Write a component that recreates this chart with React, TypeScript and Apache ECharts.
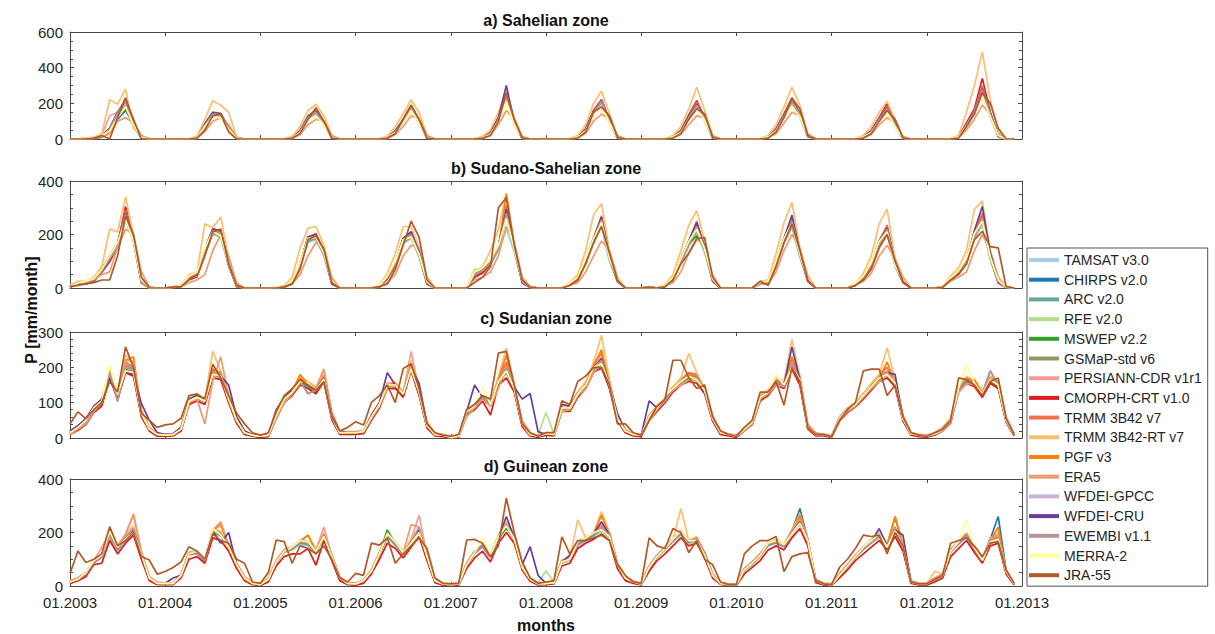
import React, { useEffect, useRef } from "react";
import * as echarts from "echarts";

const seriesNames = ["TAMSAT v3.0", "CHIRPS v2.0", "ARC v2.0", "RFE v2.0", "MSWEP v2.2", "GSMaP-std v6", "PERSIANN-CDR v1r1", "CMORPH-CRT v1.0", "TRMM 3B42 v7", "TRMM 3B42-RT v7", "PGF v3", "ERA5", "WFDEI-GPCC", "WFDEI-CRU", "EWEMBI v1.1", "MERRA-2", "JRA-55"];
const seriesColors = ["#a6cee3", "#1f78b4", "#66a89a", "#b2df8a", "#33a02c", "#8f9a60", "#fb9a99", "#e31a1c", "#f4704e", "#fdbf6f", "#ff7f00", "#ee9b6e", "#cab2d6", "#6a3d9a", "#b39595", "#ffff99", "#b15928"];
const zoneTitles = ["a) Sahelian zone", "b) Sudano-Sahelian zone", "c) Sudanian zone", "d) Guinean zone"];
const xTickLabels = ["01.2003", "01.2004", "01.2005", "01.2006", "01.2007", "01.2008", "01.2009", "01.2010", "01.2011", "01.2012", "01.2013"];
const yMaxes = [600, 400, 300, 400];
const ySteps = [200, 200, 100, 200];
const yMinorSplits = [4, 4, 5, 4];

// a) Sahelian zone
const aTAMSAT = [0,0,0,3,10,40,120,190,70,5,0,0, 0,0,0,0,3,60,130,125,50,3,0,0, 0,0,0,0,3,30,110,140,80,5,0,0, 0,0,0,0,3,30,90,160,90,5,0,0, 0,0,0,0,3,25,100,220,80,3,0,0, 0,0,0,0,5,40,130,190,90,5,0,0, 0,0,0,0,5,30,110,170,100,5,0,0, 0,0,0,0,5,40,120,190,120,10,0,0, 0,0,0,0,5,30,100,150,70,3,0,0, 0,0,0,0,5,60,140,240,120,10,0,0];
const aCHIRPS = [0,0,2,5,15,60,110,160,90,10,0,0, 0,0,0,0,5,80,145,140,60,5,0,0, 0,0,0,0,5,45,125,155,95,10,0,0, 0,0,0,0,5,45,105,185,105,10,0,0, 0,0,0,0,5,35,115,245,95,5,0,0, 0,0,0,0,10,55,155,215,105,10,0,0, 0,0,0,0,10,45,125,195,125,10,0,0, 0,0,0,0,10,55,135,215,145,20,0,0, 0,0,0,0,10,45,115,175,85,5,0,0, 0,0,0,0,10,85,155,275,145,20,0,0];
const aARC = [0,0,0,2,10,45,130,200,80,5,0,0, 0,0,0,0,5,70,135,130,55,3,0,0, 0,0,0,0,5,35,115,145,85,5,0,0, 0,0,0,0,5,35,95,170,95,5,0,0, 0,0,0,0,5,25,105,230,85,5,0,0, 0,0,0,0,8,45,145,200,95,8,0,0, 0,0,0,0,8,35,115,180,110,8,0,0, 0,0,0,0,8,45,125,200,130,15,0,0, 0,0,0,0,8,35,105,160,75,5,0,0, 0,0,0,0,8,75,145,255,130,15,0,0];
const aRFE = [2,0,5,8,20,55,145,215,95,15,2,0, 0,0,2,0,8,85,145,140,65,8,0,0, 0,0,0,2,8,45,125,155,95,12,0,0, 0,2,0,0,8,45,105,185,105,12,0,0, 0,0,0,2,8,35,115,245,95,8,0,0, 5,0,0,0,12,55,155,215,105,12,0,0, 0,0,0,2,12,45,125,195,125,12,0,0, 0,0,0,0,12,55,135,215,145,22,0,0, 0,0,0,0,12,45,115,175,85,8,0,0, 0,0,0,0,12,85,155,275,145,22,0,0];
const aMSWEP = [0,0,2,5,15,50,135,165,85,10,0,0, 0,0,0,0,5,80,140,135,60,5,0,0, 0,0,0,0,5,40,120,150,90,10,0,0, 0,0,0,0,5,40,100,180,100,10,0,0, 0,0,0,0,5,30,110,235,90,5,0,0, 0,0,0,0,10,50,150,205,100,10,0,0, 0,0,0,0,10,40,120,185,120,10,0,0, 0,0,0,0,10,50,130,205,140,20,0,0, 0,0,0,0,10,40,110,165,80,5,0,0, 0,0,0,0,10,80,150,265,140,20,0,0];
const aGSMaP = [0,0,3,8,20,60,150,220,90,12,0,0, 0,0,0,2,8,85,150,145,65,8,0,0, 0,0,0,2,8,45,130,160,95,12,0,0, 0,0,0,2,8,45,110,190,105,12,0,0, 0,0,0,2,8,35,120,250,95,8,0,0, 0,0,0,2,12,55,160,220,105,12,0,0, 0,0,0,2,12,45,130,200,125,12,0,0, 0,0,0,2,12,55,140,220,145,22,0,0, 0,0,0,2,12,45,120,180,85,8,0,0, 0,0,0,2,12,85,160,280,145,22,0,0];
const aPERSIANN = [0,0,3,8,20,130,150,200,90,15,0,0, 0,0,0,2,10,90,145,135,65,10,0,0, 0,0,0,2,10,50,125,150,95,15,0,0, 0,0,0,2,10,50,105,175,105,15,0,0, 0,0,0,2,10,40,115,230,95,10,0,0, 0,0,0,2,15,60,150,200,105,15,0,0, 0,0,0,2,15,50,125,185,120,15,0,0, 0,0,0,2,15,60,135,205,140,25,0,0, 0,0,0,2,15,50,115,165,85,10,0,0, 0,0,0,2,15,90,155,255,140,25,0,0];
const aCMORPH = [0,0,0,2,10,45,130,230,80,5,0,0, 0,0,0,0,3,75,135,140,55,3,0,0, 0,0,0,0,3,40,125,165,90,5,0,0, 0,0,0,0,3,40,105,185,100,5,0,0, 0,0,0,0,3,30,115,250,85,3,0,0, 0,0,0,0,8,55,160,220,100,5,0,0, 0,0,0,0,8,45,135,215,120,5,0,0, 0,0,0,0,8,55,140,230,140,15,0,0, 0,0,0,0,8,45,120,200,80,3,0,0, 0,0,0,0,8,90,170,340,150,15,0,0];
const aTRMM = [0,0,2,5,15,55,140,225,90,10,0,0, 0,0,0,0,5,80,145,140,60,5,0,0, 0,0,0,0,5,40,125,160,90,10,0,0, 0,0,0,0,5,40,105,190,100,10,0,0, 0,0,0,0,5,30,115,245,90,5,0,0, 0,0,0,0,10,50,155,220,100,10,0,0, 0,0,0,0,10,40,125,205,120,10,0,0, 0,0,0,0,10,50,135,220,140,20,0,0, 0,0,0,0,10,40,115,185,80,5,0,0, 0,0,0,0,10,80,160,300,140,20,0,0];
const aTRMMRT = [0,0,5,10,30,220,195,280,60,15,0,0, 0,0,0,2,15,110,215,190,150,10,0,0, 0,0,0,2,15,70,160,195,130,20,0,0, 0,0,0,2,15,70,140,220,150,20,0,0, 0,0,0,2,15,50,150,270,120,10,0,0, 0,0,0,2,20,80,200,270,140,20,0,0, 0,0,0,2,20,70,170,290,160,20,0,0, 0,0,0,2,20,80,180,290,190,30,0,0, 0,0,0,2,20,70,150,210,110,10,0,0, 0,0,0,2,20,150,300,490,220,40,0,0];
const aPGF = [0,0,2,5,15,50,140,215,85,10,0,0, 0,0,0,0,5,75,140,140,60,5,0,0, 0,0,0,0,5,40,120,155,90,10,0,0, 0,0,0,0,5,40,100,180,100,10,0,0, 0,0,0,0,5,30,110,240,90,5,0,0, 0,0,0,0,10,50,150,210,100,10,0,0, 0,0,0,0,10,40,120,195,120,10,0,0, 0,0,0,0,10,50,130,210,140,20,0,0, 0,0,0,0,10,40,110,170,80,5,0,0, 0,0,0,0,10,80,150,270,140,20,0,0];
const aERA5 = [0,0,2,5,10,30,100,120,90,20,2,0, 0,0,0,0,5,40,100,120,80,10,0,0, 0,0,0,0,5,25,80,110,100,20,0,0, 0,0,0,0,5,25,70,130,110,20,0,0, 0,0,0,0,5,20,80,160,110,15,0,0, 0,0,0,0,8,30,100,140,110,20,0,0, 0,0,0,0,8,25,80,130,120,20,0,0, 0,0,0,0,8,30,90,150,130,30,0,0, 0,0,0,0,8,25,80,120,90,15,0,0, 0,0,0,0,8,50,110,190,140,30,0,0];
const aWFDEIGPCC = [0,0,2,5,15,50,145,205,85,10,0,0, 0,0,0,0,5,80,145,130,60,5,0,0, 0,0,0,0,5,40,120,145,90,10,0,0, 0,0,0,0,5,40,100,175,100,10,0,0, 0,0,0,0,5,30,110,240,90,5,0,0, 0,0,0,0,10,50,150,210,100,10,0,0, 0,0,0,0,10,40,120,190,120,10,0,0, 0,0,0,0,10,50,130,210,140,20,0,0, 0,0,0,0,10,40,110,170,80,5,0,0, 0,0,0,0,10,80,150,270,140,20,0,0];
const aWFDEICRU = [0,0,2,5,15,60,150,215,90,10,0,0, 0,0,0,0,5,85,150,140,60,5,0,0, 0,0,0,0,5,45,125,155,95,10,0,0, 0,0,0,0,5,45,110,185,105,10,0,0, 0,0,0,0,5,35,120,300,95,5,0,0, 0,0,0,0,10,55,155,215,105,10,0,0, 0,0,0,0,10,45,125,195,125,10,0,0, 0,0,0,0,10,55,135,215,145,20,0,0, 0,0,0,0,10,45,115,175,85,5,0,0, 0,0,0,0,10,85,155,280,145,20,0,0];
const aEWEMBI = [0,0,2,5,15,55,145,210,85,10,0,0, 0,0,0,0,5,80,140,135,60,5,0,0, 0,0,0,0,5,40,120,150,90,10,0,0, 0,0,0,0,5,40,100,180,100,10,0,0, 0,0,0,0,5,30,110,245,90,5,0,0, 0,0,0,0,10,50,150,210,100,10,0,0, 0,0,0,0,10,40,120,190,120,10,0,0, 0,0,0,0,10,50,130,210,140,20,0,0, 0,0,0,0,10,40,110,170,80,5,0,0, 0,0,0,0,10,80,150,275,140,20,0,0];
const aMERRA2 = [0,0,3,8,20,45,120,180,80,10,0,0, 0,0,0,2,8,70,125,120,55,5,0,0, 0,0,0,2,8,35,105,130,80,10,0,0, 0,0,0,2,8,35,90,160,90,10,0,0, 0,0,0,2,8,25,100,210,80,5,0,0, 0,0,0,2,12,45,135,185,90,10,0,0, 0,0,0,2,12,35,105,170,105,10,0,0, 0,0,0,2,12,45,115,185,125,20,0,0, 0,0,0,2,12,35,100,150,70,5,0,0, 0,0,0,2,12,70,135,240,125,20,0,0];
const aJRA55 = [0,0,0,5,20,0,120,230,110,0,0,0, 0,0,0,0,5,50,130,140,40,0,0,0, 0,0,0,0,5,30,110,175,100,5,0,0, 0,0,0,0,5,30,110,190,110,5,0,0, 0,0,0,0,5,20,100,260,110,5,0,0, 0,0,0,0,5,40,150,180,130,10,0,0, 0,0,0,0,5,30,110,170,140,10,0,0, 0,0,0,0,5,40,120,230,170,20,0,0, 0,0,0,0,5,30,100,160,110,5,0,0, 0,0,0,0,5,70,140,260,200,60,0,0];

// b) Sudano-Sahelian zone
const bTAMSAT = [3,15,15,25,55,95,150,250,170,20,0,0, 0,2,5,35,50,125,200,190,80,5,0,0, 0,0,0,3,15,75,170,180,120,15,0,0, 0,0,0,3,35,80,165,185,115,15,0,0, 0,0,0,45,60,85,140,220,135,20,2,0, 0,0,0,12,30,90,165,230,100,25,0,0, 0,2,0,5,30,90,155,205,130,25,0,0, 0,0,0,15,15,80,165,225,115,25,0,0, 0,0,0,10,35,75,155,200,80,20,0,0, 0,0,2,30,55,90,185,235,105,20,2,0];
const bCHIRPS = [5,20,20,30,65,115,165,280,190,25,0,0, 0,3,8,40,55,145,220,210,95,8,0,0, 0,0,0,5,20,90,190,200,140,20,0,0, 0,0,0,5,40,95,185,205,135,20,0,0, 0,0,0,50,65,100,155,285,155,25,3,0, 0,0,0,15,35,105,185,260,120,30,0,0, 0,3,0,8,35,105,175,240,155,30,0,0, 0,0,0,20,20,95,185,255,135,30,0,0, 0,0,0,12,40,90,175,225,95,25,0,0, 0,0,3,35,60,105,205,265,125,25,3,0];
const bARC = [3,15,15,25,60,100,155,260,175,20,0,0, 0,2,5,35,50,130,205,195,85,5,0,0, 0,0,0,3,15,80,175,185,125,15,0,0, 0,0,0,3,35,85,170,190,120,15,0,0, 0,0,0,45,60,90,145,265,140,20,2,0, 0,0,0,12,30,95,170,240,105,25,0,0, 0,2,0,5,30,95,160,215,140,25,0,0, 0,0,0,15,15,85,170,235,120,25,0,0, 0,0,0,10,35,80,160,205,85,20,0,0, 0,0,2,30,55,95,190,245,110,20,2,0];
const bRFE = [8,25,25,35,70,115,165,270,190,30,2,0, 0,5,10,45,60,145,215,200,95,10,0,0, 0,0,2,8,25,90,185,190,135,25,0,0, 0,0,0,8,45,95,180,195,130,25,0,0, 0,0,0,70,70,100,150,270,150,30,5,0, 0,0,0,18,40,105,180,250,115,35,0,0, 0,5,0,10,40,105,170,225,150,35,0,0, 0,0,0,22,25,95,180,245,130,35,0,0, 0,0,0,15,45,90,170,215,90,30,0,0, 0,0,5,40,65,105,200,255,120,30,5,0];
const bMSWEP = [5,20,20,30,65,110,160,265,185,25,0,0, 0,3,8,40,55,140,210,195,90,8,0,0, 0,0,0,5,20,85,180,190,135,20,0,0, 0,0,0,5,40,90,175,195,130,20,0,0, 0,0,0,55,65,95,150,275,150,25,3,0, 0,0,0,15,35,100,175,245,115,30,0,0, 0,3,0,8,35,100,165,195,150,30,0,0, 0,0,0,20,20,90,175,240,130,30,0,0, 0,0,0,12,40,85,165,210,90,25,0,0, 0,0,3,35,60,100,195,250,120,25,3,0];
const bGSMaP = [5,20,20,30,70,120,165,285,190,25,0,0, 0,3,8,40,55,145,220,210,90,8,0,0, 0,0,0,5,20,90,190,200,140,20,0,0, 0,0,0,5,40,95,185,205,135,20,0,0, 0,0,0,50,65,100,155,290,155,25,3,0, 0,0,0,15,35,105,185,260,120,30,0,0, 0,3,0,8,35,105,175,235,155,30,0,0, 0,0,0,20,20,95,185,255,135,30,0,0, 0,0,0,12,40,90,175,225,95,25,0,0, 0,0,3,35,60,105,205,265,125,25,3,0];
const bPERSIANN = [5,20,20,35,70,120,160,270,180,30,0,0, 0,3,10,45,60,145,210,200,95,10,0,0, 0,0,2,8,25,95,180,190,135,25,0,0, 0,0,0,8,45,95,175,195,130,25,0,0, 0,0,0,50,70,100,150,270,150,30,3,0, 0,0,0,18,40,105,175,245,115,35,0,0, 0,3,0,10,40,100,165,220,150,35,0,0, 0,0,0,22,25,95,175,240,130,35,0,0, 0,0,0,15,45,90,165,210,90,30,0,0, 0,0,3,38,65,105,195,250,120,30,3,0];
const bCMORPH = [3,15,15,25,60,100,160,305,180,20,0,0, 0,2,5,35,50,130,215,210,85,5,0,0, 0,0,0,3,15,80,185,200,135,15,0,0, 0,0,0,3,35,85,180,210,130,15,0,0, 0,0,0,40,55,90,155,300,150,20,2,0, 0,0,0,12,30,95,185,265,115,25,0,0, 0,2,0,5,30,110,175,240,150,25,0,0, 0,0,0,25,20,85,185,260,130,25,0,0, 0,0,0,10,35,80,175,230,90,20,0,0, 0,0,2,30,55,95,205,275,120,20,2,0];
const bTRMM = [5,20,20,30,65,115,165,290,190,25,0,0, 0,3,8,40,55,145,220,215,90,8,0,0, 0,0,0,5,20,90,190,205,135,20,0,0, 0,0,0,5,40,95,185,210,130,20,0,0, 0,0,0,50,65,100,155,310,150,25,3,0, 0,0,0,15,35,105,185,270,115,30,0,0, 0,3,0,8,35,105,175,250,150,30,0,0, 0,0,0,20,20,95,185,265,130,30,0,0, 0,0,0,12,40,90,175,235,90,25,0,0, 0,0,3,35,60,105,205,280,120,25,3,0];
const bTRMMRT = [8,25,25,40,80,220,210,340,200,35,0,0, 0,5,10,50,60,240,225,265,110,15,0,0, 0,0,0,10,40,150,224,230,160,30,0,0, 0,0,0,10,55,130,230,230,150,30,0,0, 0,0,0,60,80,140,220,355,170,35,5,0, 0,0,0,20,50,140,275,315,140,40,0,0, 0,5,0,12,50,140,235,290,175,40,0,0, 0,0,0,25,30,130,245,320,150,40,0,0, 0,0,0,15,55,120,240,295,110,35,0,0, 0,0,5,45,75,140,295,325,140,35,5,0];
const bPGF = [5,20,20,30,65,110,165,280,185,25,0,0, 0,3,8,40,55,140,215,205,90,8,0,0, 0,0,0,5,20,85,185,195,135,20,0,0, 0,0,0,5,40,90,180,200,130,20,0,0, 0,0,0,50,65,95,150,350,150,25,3,0, 0,0,0,15,35,100,180,255,115,30,0,0, 0,3,0,8,35,100,170,230,150,30,0,0, 0,0,0,20,20,90,180,250,130,30,0,0, 0,0,0,12,40,85,170,220,90,25,0,0, 0,0,3,35,60,100,200,260,120,25,3,0];
const bERA5 = [5,15,20,30,50,60,150,220,200,60,5,0, 0,3,5,20,30,50,140,200,120,20,0,0, 0,0,0,5,15,50,120,170,150,40,0,0, 0,0,0,5,20,50,120,160,150,40,0,0, 0,0,0,30,40,60,120,230,170,40,5,0, 0,0,0,10,20,60,120,176,140,40,0,0, 0,3,0,8,20,60,130,180,160,50,0,0, 0,0,0,15,15,60,140,200,150,45,0,0, 0,0,0,10,25,55,120,160,110,40,0,0, 0,0,3,25,40,60,140,200,140,40,5,0];
const bWFDEIGPCC = [5,20,20,30,65,110,160,270,185,25,0,0, 0,3,8,40,55,140,215,205,90,8,0,0, 0,0,0,5,20,85,185,195,135,20,0,0, 0,0,0,5,40,90,180,200,130,20,0,0, 0,0,0,50,65,95,150,275,150,25,3,0, 0,0,0,15,35,100,180,250,115,30,0,0, 0,3,0,8,35,100,170,225,150,30,0,0, 0,0,0,20,20,90,180,245,130,30,0,0, 0,0,0,12,40,85,170,215,90,25,0,0, 0,0,3,35,60,100,200,255,120,25,3,0];
const bWFDEICRU = [5,20,20,30,70,120,170,280,190,25,0,0, 0,3,8,40,55,145,220,215,90,8,0,0, 0,0,0,5,20,90,190,200,140,20,0,0, 0,0,0,5,40,95,185,210,135,20,0,0, 0,0,0,50,65,100,155,295,155,25,3,0, 0,0,0,15,35,105,185,265,120,30,0,0, 0,3,0,8,35,105,175,245,155,30,0,0, 0,0,0,20,20,95,185,272,135,30,0,0, 0,0,0,12,40,90,175,225,95,25,0,0, 0,0,3,35,60,105,215,305,130,25,3,0];
const bEWEMBI = [5,20,20,30,65,110,160,275,185,25,0,0, 0,3,8,40,55,140,215,205,90,8,0,0, 0,0,0,5,20,85,185,195,135,20,0,0, 0,0,0,5,40,90,180,200,130,20,0,0, 0,0,0,50,65,95,150,280,150,25,3,0, 0,0,0,15,35,100,180,255,115,30,0,0, 0,3,0,8,35,100,170,230,150,30,0,0, 0,0,0,20,20,90,180,250,130,30,0,0, 0,0,0,12,40,85,170,220,90,25,0,0, 0,0,3,35,60,100,200,260,120,25,3,0];
const bMERRA2 = [5,20,25,35,70,120,170,255,175,30,0,0, 0,3,10,45,60,150,210,195,90,10,0,0, 0,0,2,8,25,95,185,190,130,25,0,0, 0,0,0,8,45,100,180,190,125,25,0,0, 0,0,0,60,75,105,160,260,145,30,3,0, 0,0,0,18,40,110,185,245,110,35,0,0, 0,3,0,10,40,110,175,220,145,35,0,0, 0,0,0,22,25,100,185,240,125,35,0,0, 0,0,0,15,45,95,175,210,85,30,0,0, 0,0,5,38,65,110,205,250,115,30,3,0];
const bJRA55 = [5,10,15,20,30,30,120,270,200,40,0,0, 0,3,5,30,40,120,210,220,90,10,0,0, 0,0,0,5,15,70,180,195,145,20,0,0, 0,0,0,5,15,70,160,250,190,30,0,0, 0,0,0,20,40,80,300,338,160,30,3,0, 0,0,0,10,30,90,170,230,130,30,0,0, 0,3,0,5,30,90,130,185,188,40,0,0, 0,0,0,25,10,80,170,240,140,30,0,0, 0,0,0,10,30,70,150,200,100,25,0,0, 0,0,3,30,50,90,180,212,155,150,5,0];

// c) Sudanian zone
const cTAMSAT = [10,25,40,75,95,175,110,185,180,60,20,5, 5,8,20,100,110,100,175,170,100,45,10,5, 3,5,60,105,125,150,140,125,160,55,10,10, 10,15,55,90,140,145,120,195,120,30,8,5, 0,3,70,85,110,90,150,190,130,35,8,3, 8,8,80,80,120,140,190,210,140,50,15,8, 5,55,80,105,135,150,165,160,125,50,10,8, 3,20,40,110,125,150,140,200,155,25,8,8, 3,50,75,90,115,140,160,175,145,50,10,5, 3,10,20,45,135,155,150,120,155,140,45,8];
const cCHIRPS = [15,30,50,85,105,190,125,205,195,75,25,10, 8,10,28,110,118,108,190,185,115,55,15,8, 5,8,68,115,135,165,155,140,175,65,15,15, 15,18,62,98,155,155,130,210,135,38,10,8, 2,5,78,95,120,100,165,205,145,45,10,5, 12,10,88,90,130,155,205,225,155,60,20,10, 8,62,88,115,145,165,180,175,140,60,15,10, 5,25,48,120,135,165,155,215,170,35,10,10, 4,58,82,100,125,150,175,190,160,60,12,8, 5,12,28,55,145,170,160,130,170,155,55,10];
const cARC = [12,28,42,78,95,180,110,190,180,65,22,8, 6,8,22,100,112,102,178,172,105,48,12,6, 4,6,62,108,126,155,145,128,165,58,12,12, 12,15,58,92,145,145,120,198,125,32,8,6, 1,4,72,88,112,92,155,185,135,38,8,4, 10,8,82,82,120,145,190,195,145,52,18,8, 6,58,82,108,138,155,170,165,130,52,12,8, 4,22,42,112,128,155,145,205,160,28,8,8, 3,52,78,92,118,140,165,180,150,52,10,6, 4,10,22,48,135,160,150,120,160,145,48,8];
const cRFE = [18,32,48,82,102,188,125,202,192,72,28,12, 10,12,28,108,118,108,188,182,112,52,18,10, 8,10,68,112,132,162,152,138,172,62,18,18, 18,20,62,98,152,152,128,208,132,38,12,10, 5,8,78,92,118,98,162,202,142,42,12,8, 72,12,88,88,128,152,202,222,152,58,22,12, 10,62,88,112,142,162,178,172,138,58,18,12, 8,28,48,118,132,162,152,212,168,32,12,12, 6,58,82,98,122,148,172,188,158,58,15,10, 8,15,28,52,142,168,158,128,168,152,52,12];
const cMSWEP = [15,30,45,80,100,180,120,195,185,70,25,10, 8,10,25,105,115,105,180,175,110,50,15,8, 5,8,65,110,130,155,150,130,165,60,15,15, 15,18,60,95,150,145,125,200,130,35,10,8, 2,5,75,90,115,95,160,195,140,40,10,5, 12,10,85,85,125,150,195,215,150,55,20,10, 8,60,85,110,140,160,170,165,135,55,15,10, 5,25,45,115,130,160,150,205,165,30,10,10, 4,55,80,95,120,145,165,180,155,55,12,8, 5,12,25,50,140,160,150,125,160,145,50,10];
const cGSMaP = [15,32,48,85,105,190,105,205,195,72,25,10, 8,10,25,108,118,108,190,185,112,50,15,8, 5,8,68,112,132,165,125,140,175,62,15,15, 15,18,62,98,155,155,128,210,132,35,10,8, 2,5,78,92,118,98,165,210,142,40,10,5, 12,10,88,88,128,155,205,225,152,55,20,10, 8,62,88,112,142,165,180,175,138,55,15,10, 5,25,48,118,132,165,155,215,168,30,10,10, 4,58,82,98,122,150,175,190,158,55,12,8, 5,12,28,52,142,170,160,128,190,150,50,10];
const cPERSIANN = [18,35,50,85,105,190,130,210,200,75,30,12, 10,12,30,110,120,110,190,185,115,55,18,10, 8,10,70,115,135,165,155,140,195,65,18,18, 18,20,65,100,155,155,130,245,135,40,12,10, 5,8,80,95,120,100,165,205,145,45,12,8, 15,12,90,90,130,155,205,230,155,60,22,12, 10,65,90,115,145,165,180,175,140,60,18,12, 8,28,50,120,135,165,155,215,170,35,12,12, 6,60,85,100,125,150,175,190,160,60,15,10, 8,15,30,55,145,170,160,130,170,155,55,12];
const cCMORPH = [10,22,38,72,90,170,110,185,175,60,20,5, 5,6,20,95,105,95,170,165,100,42,10,5, 2,4,55,100,120,150,140,125,160,52,10,10, 10,12,50,85,140,140,115,190,120,28,6,4, 0,2,65,80,105,65,150,170,130,32,6,2, 8,6,75,75,115,140,185,200,140,48,15,6, 4,50,75,100,130,150,160,155,125,48,10,6, 2,20,38,105,120,150,140,195,150,25,6,6, 2,48,72,88,110,135,160,170,145,48,8,4, 2,8,20,42,130,155,145,115,155,140,45,6];
const cTRMM = [15,30,48,82,102,190,125,215,200,72,25,10, 8,10,25,108,118,108,195,185,112,52,15,8, 5,8,66,112,132,170,152,140,180,62,15,15, 15,18,60,98,152,155,128,215,132,36,10,8, 2,5,76,92,118,98,170,215,145,42,10,5, 12,10,86,88,128,155,210,240,155,56,20,10, 8,62,86,112,142,165,185,180,138,56,15,10, 5,25,46,118,132,165,155,225,170,32,10,10, 4,56,82,98,122,150,178,200,160,56,12,8, 5,12,26,52,142,170,160,130,172,155,52,10];
const cTRMMRT = [15,30,50,85,110,200,130,235,215,75,25,10, 8,10,28,110,125,110,245,190,115,55,15,8, 5,8,70,115,135,175,160,145,185,65,15,15, 15,18,62,100,155,160,130,220,135,38,10,8, 2,5,78,95,120,100,175,255,150,45,10,5, 12,10,88,90,130,160,215,291,165,60,20,10, 8,62,88,115,145,170,240,185,140,60,15,10, 5,25,48,120,135,170,160,280,175,35,10,10, 4,58,82,100,125,155,180,255,165,60,12,8, 5,12,28,55,145,175,165,135,175,160,55,10];
const cPGF = [15,30,45,80,100,185,120,220,230,70,25,10, 8,10,25,105,115,105,190,185,110,50,15,8, 5,8,65,110,130,180,150,135,175,60,15,15, 15,18,60,95,150,150,125,210,130,35,10,8, 2,5,75,90,115,95,165,235,140,40,10,5, 12,10,85,85,125,150,205,250,150,55,20,10, 8,60,85,110,140,160,180,175,135,55,15,10, 5,25,45,115,130,160,150,230,165,30,10,10, 4,55,80,95,120,145,170,215,155,55,12,8, 5,12,25,50,140,165,165,125,170,150,50,10];
const cERA5 = [10,25,40,75,100,180,130,220,215,80,30,10, 8,10,25,100,110,40,160,230,120,60,20,8, 5,8,55,100,125,155,155,140,195,75,20,15, 15,18,55,90,140,150,130,200,140,45,15,8, 2,5,60,85,110,90,140,200,150,50,15,5, 12,10,75,80,120,140,185,215,160,65,25,10, 8,50,80,105,135,150,165,165,145,65,20,10, 5,20,40,110,125,150,145,200,175,40,15,10, 4,50,75,90,115,140,160,180,165,65,15,8, 5,10,20,45,130,155,150,125,170,160,60,10];
const cWFDEIGPCC = [15,30,45,80,100,185,120,200,190,70,25,10, 8,10,25,105,115,105,185,180,110,50,15,8, 5,8,65,110,130,160,150,135,170,60,15,15, 15,18,60,95,150,150,125,205,130,35,10,8, 2,5,75,90,115,95,160,200,140,40,10,5, 12,10,85,85,125,150,200,220,150,55,20,10, 8,60,85,110,140,160,175,170,135,55,15,10, 5,25,45,115,130,160,150,210,165,30,10,10, 4,55,80,95,120,145,170,185,155,55,12,8, 5,12,25,50,140,165,155,125,165,150,50,10];
const cWFDEICRU = [20,35,55,90,110,170,130,190,180,98,50,15, 10,12,30,110,120,110,180,175,150,60,20,10, 8,10,80,115,135,160,150,135,170,65,20,15, 15,18,65,100,185,150,125,200,155,40,12,8, 2,5,75,150,115,95,160,195,145,110,126,18, 10,10,95,90,125,150,200,225,150,70,20,10, 8,105,85,110,140,160,175,170,135,55,15,10, 5,25,45,115,130,160,150,258,165,30,10,10, 4,55,80,95,120,145,170,185,180,55,12,8, 5,12,25,50,140,165,155,125,165,150,50,10];
const cEWEMBI = [15,30,45,80,100,185,103,200,190,70,25,10, 8,10,25,105,115,105,185,180,110,50,15,8, 5,8,65,110,130,160,125,135,170,60,15,15, 15,18,60,95,150,150,125,205,130,35,10,8, 2,5,75,90,115,95,160,200,140,40,10,5, 12,10,85,85,125,150,200,220,150,55,20,10, 8,60,85,110,140,160,175,170,135,55,15,10, 5,25,45,115,130,160,150,210,165,30,10,10, 4,55,80,95,120,145,170,185,155,55,12,8, 5,12,25,50,140,165,155,125,190,150,50,10];
const cMERRA2 = [15,30,50,85,105,206,125,190,185,70,25,10, 8,10,25,105,115,105,180,175,110,50,15,8, 5,8,65,110,130,160,155,135,165,60,15,15, 15,18,60,95,150,150,125,195,130,35,10,8, 2,5,75,90,145,95,160,190,140,40,10,5, 12,10,85,85,125,150,200,210,150,55,20,10, 8,60,85,120,140,160,175,165,135,55,15,10, 5,25,45,115,130,180,150,200,165,30,10,10, 4,55,80,95,120,145,170,180,155,55,12,8, 5,12,25,50,140,211,155,125,165,150,50,10];
const cJRA55 = [40,74,55,80,100,160,130,258,200,70,50,30, 37,40,56,120,125,110,209,170,120,70,40,15, 8,15,75,120,140,165,150,135,160,60,20,30, 46,37,101,120,150,100,197,210,140,40,15,8, 5,10,80,95,120,110,240,245,150,40,15,5, 15,15,105,95,160,175,200,200,150,40,40,15, 8,50,90,110,220,220,170,140,150,60,20,10, 5,30,50,130,130,160,93,200,160,30,10,10, 4,50,80,100,190,195,195,120,150,60,15,8, 5,15,25,50,170,165,150,120,160,170,55,10];

// d) Guinean zone
const dTAMSAT = [10,20,40,85,105,180,130,170,200,110,25,8, 8,8,35,115,120,90,195,185,140,75,25,8, 3,20,85,125,135,155,150,120,180,100,25,8, 5,15,50,115,180,150,115,155,200,100,15,5, 3,5,75,120,145,105,170,220,170,65,20,5, 8,10,85,95,150,165,185,205,180,75,25,12, 5,65,105,135,165,190,160,165,115,35,8,3, 3,55,80,110,150,160,145,190,230,160,15,5, 3,35,70,105,135,160,180,145,200,140,12,5, 5,20,35,125,155,180,135,90,160,170,50,5];
const dCHIRPS = [15,25,45,95,115,195,145,185,215,125,30,10, 10,10,40,125,130,100,210,200,155,85,30,10, 5,25,95,135,145,170,165,135,195,115,30,10, 8,20,55,125,195,165,125,170,215,115,20,8, 5,8,85,130,155,115,185,235,185,75,25,8, 10,12,95,105,165,180,200,220,195,85,30,15, 8,75,115,145,175,205,170,180,125,45,10,5, 5,65,90,120,160,170,155,205,290,175,20,8, 5,45,80,115,145,170,195,155,255,155,15,8, 8,25,45,135,165,195,145,100,175,260,60,8];
const dARC = [12,22,42,88,108,185,135,175,205,115,28,8, 8,8,38,118,122,92,200,190,145,78,28,8, 4,22,88,128,138,160,155,125,185,105,28,8, 6,18,52,118,185,155,118,160,205,105,18,6, 4,6,78,122,148,108,175,225,175,68,22,6, 8,10,88,98,155,170,190,210,185,78,28,12, 6,68,108,138,168,195,162,170,118,38,8,4, 4,58,82,112,152,162,148,195,235,165,18,6, 4,38,72,108,138,162,185,148,205,145,12,6, 6,22,38,128,158,185,138,92,165,175,52,6];
const dRFE = [18,28,48,92,112,192,142,182,212,122,32,12, 12,12,42,122,128,98,208,198,152,82,32,12, 8,28,92,132,142,168,162,132,192,112,32,12, 10,22,58,122,192,162,122,168,212,112,22,10, 8,10,82,128,152,112,182,232,182,72,28,10, 57,14,92,102,162,178,198,218,192,82,32,18, 10,72,112,142,172,202,168,178,122,42,12,8, 8,62,88,118,158,168,152,202,242,172,22,10, 8,42,78,112,142,168,192,152,212,152,18,10, 10,28,42,132,162,192,142,98,172,182,58,10];
const dMSWEP = [15,25,45,90,110,190,140,185,210,120,30,10, 10,10,40,120,125,95,205,190,150,80,30,10, 5,25,90,130,140,165,160,130,190,110,30,10, 8,20,55,120,210,160,120,165,205,110,20,8, 5,8,80,125,150,110,180,215,180,70,25,8, 10,12,90,100,160,175,195,210,185,80,30,15, 8,70,110,140,170,200,165,175,120,40,10,5, 5,60,85,115,155,165,150,200,240,170,20,8, 5,40,75,110,140,165,190,150,200,150,15,8, 8,25,40,130,160,190,140,95,165,175,55,8];
const dGSMaP = [15,25,48,92,112,195,145,180,215,122,30,10, 10,10,42,122,128,98,208,195,152,82,30,10, 5,25,92,132,142,168,162,130,192,112,30,10, 8,20,58,122,192,162,122,165,212,112,20,8, 5,8,82,128,152,112,182,232,182,72,25,8, 10,12,92,102,162,178,198,218,192,82,30,15, 8,72,112,142,172,202,168,178,122,42,10,5, 5,62,88,118,158,168,152,202,242,172,20,8, 5,42,78,112,142,168,192,152,212,152,15,8, 8,25,42,132,162,192,142,95,172,182,55,8];
const dPERSIANN = [20,30,50,95,145,200,150,195,270,130,35,15, 12,12,45,125,130,100,210,225,155,85,35,12, 8,28,95,135,145,170,165,135,220,115,35,12, 10,22,60,125,195,165,125,175,265,115,25,10, 8,10,85,130,155,115,185,240,190,75,30,10, 12,15,95,105,165,180,200,225,195,85,35,18, 10,75,115,145,175,205,170,180,125,45,12,8, 8,65,90,120,160,170,155,210,250,175,25,10, 8,45,80,115,145,170,195,160,215,155,20,10, 10,30,45,135,165,195,145,100,175,185,60,10];
const dCMORPH = [10,20,35,80,85,170,120,160,190,100,20,5, 5,5,30,100,110,85,180,170,130,65,20,5, 2,15,75,110,120,120,140,78,170,95,20,5, 3,10,45,100,160,140,105,145,185,95,12,3, 2,4,65,105,130,90,160,200,160,60,18,4, 5,8,75,85,140,160,175,195,170,65,20,10, 4,55,95,120,150,180,150,160,105,30,6,2, 2,45,70,95,135,150,135,180,215,150,12,4, 2,30,60,95,120,145,170,135,185,130,10,4, 4,15,30,110,140,170,125,85,150,160,45,4];
const dTRMM = [15,25,45,90,110,195,140,185,220,120,30,10, 10,10,40,120,125,95,210,200,150,80,30,10, 5,25,90,130,140,165,165,130,195,110,30,10, 8,20,55,120,190,160,120,170,215,110,20,8, 5,8,80,125,150,110,185,235,185,70,25,8, 10,12,90,100,160,175,200,225,195,80,30,15, 8,70,110,140,170,205,165,180,120,40,10,5, 5,60,85,115,155,170,150,205,260,170,20,8, 5,40,75,110,140,170,195,150,220,150,15,8, 8,25,40,130,160,195,140,95,175,195,55,8];
const dTRMMRT = [15,25,50,95,115,200,145,190,225,125,30,10, 10,10,42,125,130,100,215,205,155,85,30,10, 5,25,92,135,145,170,190,135,200,115,30,10, 8,20,58,125,195,165,125,175,220,115,20,8, 5,8,85,130,155,115,190,240,190,75,25,8, 10,12,92,105,247,180,200,278,200,85,30,15, 8,72,112,145,175,290,170,185,125,45,10,5, 5,62,88,120,160,175,155,210,270,175,20,8, 5,42,78,115,145,175,200,155,260,160,15,8, 8,55,45,135,165,200,145,100,180,200,60,8];
const dPGF = [15,25,45,90,110,190,140,180,210,120,30,10, 10,10,40,120,125,95,205,235,150,80,30,10, 5,25,90,130,140,165,190,130,190,110,30,10, 8,20,55,120,190,160,120,165,210,110,20,8, 5,8,80,125,150,110,180,230,180,70,25,8, 10,12,90,100,160,175,195,265,190,80,30,15, 8,70,110,140,170,200,165,175,120,40,10,5, 5,60,85,115,155,165,150,200,265,170,20,8, 5,40,75,110,140,165,190,150,260,150,15,8, 8,25,40,130,160,190,140,95,170,220,55,8];
const dERA5 = [20,30,50,95,115,200,150,190,265,125,35,12, 12,12,45,125,130,100,210,240,155,85,35,12, 8,28,95,135,145,170,165,135,195,115,35,12, 10,22,60,125,195,165,125,230,220,115,25,10, 8,10,85,130,155,115,185,235,185,75,30,10, 12,15,95,105,165,180,200,230,200,85,35,18, 10,75,115,145,175,205,170,180,125,45,12,8, 8,65,90,120,160,170,155,210,250,175,25,10, 8,45,80,115,145,170,195,155,215,155,20,10, 10,30,45,135,165,195,145,100,175,190,60,10];
const dWFDEIGPCC = [15,25,45,90,110,190,140,180,210,120,30,10, 10,10,40,120,125,95,205,195,150,80,30,10, 5,25,90,130,140,165,160,130,190,110,30,10, 8,20,55,120,190,160,120,165,210,110,20,8, 5,8,80,125,150,110,180,230,180,70,25,8, 10,12,90,100,160,175,195,215,190,80,30,15, 8,70,110,140,170,200,165,175,120,40,10,5, 5,60,85,115,155,165,150,200,240,170,20,8, 5,40,75,110,140,165,190,150,210,150,15,8, 8,25,40,130,160,190,140,95,170,180,55,8];
const dWFDEICRU = [15,25,45,90,110,210,140,180,210,120,30,10, 10,30,40,120,125,95,205,160,200,80,30,10, 5,25,90,130,140,165,160,130,190,110,30,10, 8,20,55,120,190,160,120,165,210,110,20,8, 5,8,80,125,150,110,180,260,180,80,147,40, 10,12,90,115,160,175,195,240,190,80,30,15, 8,70,110,140,170,200,165,175,120,40,10,5, 5,60,85,115,155,165,150,200,240,170,20,8, 5,40,75,110,140,165,215,150,210,190,15,8, 8,25,40,130,160,190,140,95,170,180,55,8];
const dEWEMBI = [15,25,45,90,110,190,140,180,215,120,30,10, 10,10,40,120,125,95,205,195,150,80,30,10, 5,25,90,130,140,165,160,130,190,110,30,10, 8,20,55,120,190,160,120,165,220,110,20,8, 5,8,80,125,150,110,180,230,180,70,25,8, 10,12,90,100,160,175,195,215,190,80,30,15, 8,70,110,140,170,200,165,175,120,40,10,5, 5,60,85,115,155,165,150,200,235,170,20,8, 5,40,75,110,140,165,190,150,210,150,15,8, 8,25,40,130,160,190,140,95,170,180,55,8];
const dMERRA2 = [15,25,50,95,115,205,145,175,200,120,30,10, 10,10,40,120,130,100,215,190,145,80,30,10, 5,25,90,130,145,170,165,130,185,110,30,10, 8,20,55,120,195,165,125,160,200,110,20,8, 5,8,80,125,180,115,185,225,175,70,25,8, 10,12,90,100,165,180,200,210,185,80,30,15, 8,70,110,140,175,205,170,170,115,40,10,5, 5,60,85,115,160,170,155,195,235,170,20,8, 5,40,75,110,145,170,195,145,205,150,15,8, 8,25,40,130,165,247,145,95,165,175,55,8];
const dJRA55 = [47,131,88,100,120,222,150,170,200,110,97,44, 54,69,90,147,130,100,195,170,160,100,85,15, 10,50,172,166,85,150,140,120,150,100,30,15, 47,40,160,153,180,85,120,150,180,140,30,10, 8,10,172,174,160,110,150,328,200,90,30,10, 15,20,184,120,170,170,180,190,170,80,40,15, 10,180,150,140,215,200,125,170,100,80,15,5, 5,120,150,170,170,185,54,110,120,125,20,8, 5,70,100,140,190,185,190,120,200,150,15,8, 8,25,40,160,170,180,150,110,160,165,60,10];

const zoneA = [aTAMSAT, aCHIRPS, aARC, aRFE, aMSWEP, aGSMaP, aPERSIANN, aCMORPH, aTRMM, aTRMMRT, aPGF, aERA5, aWFDEIGPCC, aWFDEICRU, aEWEMBI, aMERRA2, aJRA55];
const zoneB = [bTAMSAT, bCHIRPS, bARC, bRFE, bMSWEP, bGSMaP, bPERSIANN, bCMORPH, bTRMM, bTRMMRT, bPGF, bERA5, bWFDEIGPCC, bWFDEICRU, bEWEMBI, bMERRA2, bJRA55];
const zoneC = [cTAMSAT, cCHIRPS, cARC, cRFE, cMSWEP, cGSMaP, cPERSIANN, cCMORPH, cTRMM, cTRMMRT, cPGF, cERA5, cWFDEIGPCC, cWFDEICRU, cEWEMBI, cMERRA2, cJRA55];
const zoneD = [dTAMSAT, dCHIRPS, dARC, dRFE, dMSWEP, dGSMaP, dPERSIANN, dCMORPH, dTRMM, dTRMMRT, dPGF, dERA5, dWFDEIGPCC, dWFDEICRU, dEWEMBI, dMERRA2, dJRA55];
const zones = [zoneA, zoneB, zoneC, zoneD];

const FONT = "'Liberation Sans', Arial, Helvetica, sans-serif";
const AXIS_COLOR = "#4a4a4a";
const TEXT_COLOR = "#262626";

const gridBoxes = [
  { top: 32, height: 107 },
  { top: 181, height: 107 },
  { top: 332, height: 106 },
  { top: 479, height: 107 },
];
const titleY = [20, 168, 318, 466];

function buildOption() {
  const grid = gridBoxes.map((g) => ({ left: 70, top: g.top, width: 952, height: g.height }));
  const xAxis: any[] = [];
  const yAxis: any[] = [];
  gridBoxes.forEach((_, g) => {
    ["bottom", "top"].forEach((pos) => {
      xAxis.push({
        type: "value",
        gridIndex: g,
        position: pos,
        min: 0,
        max: 120,
        interval: 12,
        axisLine: { show: true, onZero: false, lineStyle: { color: AXIS_COLOR, width: 1 } },
        axisTick: { show: true, inside: true, length: 4, lineStyle: { color: AXIS_COLOR } },
        axisLabel: {
          show: pos === "bottom" && g === 3,
          fontSize: 15,
          fontFamily: FONT,
          color: TEXT_COLOR,
          margin: 9,
          formatter: (v: number) => xTickLabels[Math.round(v / 12)] ?? "",
        },
        splitLine: { show: false },
      });
    });
    ["left", "right"].forEach((pos) => {
      yAxis.push({
        type: "value",
        gridIndex: g,
        position: pos,
        min: 0,
        max: yMaxes[g],
        interval: ySteps[g],
        axisLine: { show: true, onZero: false, lineStyle: { color: AXIS_COLOR, width: 1 } },
        axisTick: { show: true, inside: true, length: 4, lineStyle: { color: AXIS_COLOR } },
        minorTick: { show: true, splitNumber: yMinorSplits[g], length: 3, lineStyle: { color: AXIS_COLOR } },
        axisLabel: {
          show: pos === "left",
          fontSize: 15,
          fontFamily: FONT,
          color: TEXT_COLOR,
          margin: 7,
        },
        splitLine: { show: false },
        minorSplitLine: { show: false },
      });
    });
  });

  const series: any[] = [];
  zones.forEach((zone, g) => {
    zone.forEach((values, k) => {
      series.push({
        type: "line",
        name: seriesNames[k],
        xAxisIndex: g * 2,
        yAxisIndex: g * 2,
        data: values.map((v, i) => [i, v]),
        showSymbol: false,
        symbol: "none",
        lineStyle: { color: seriesColors[k], width: 1.7 },
        itemStyle: { color: seriesColors[k] },
        emphasis: { disabled: true },
        silent: true,
      });
    });
  });

  const graphic: any[] = zoneTitles.map((t, g) => ({
    type: "text",
    x: 546,
    y: titleY[g],
    style: {
      text: t,
      font: `bold 16px ${FONT}`,
      fill: "#111",
      textAlign: "center",
      textVerticalAlign: "middle",
    },
  }));
  graphic.push({
    type: "text",
    x: 546,
    y: 625,
    style: { text: "months", font: `bold 16px ${FONT}`, fill: "#111", textAlign: "center", textVerticalAlign: "middle" },
  });
  graphic.push({
    type: "text",
    x: 31,
    y: 310,
    rotation: Math.PI / 2,
    style: { text: "P [mm/month]", font: `bold 16px ${FONT}`, fill: "#111", textAlign: "center", textVerticalAlign: "middle" },
  });

  return {
    animation: false,
    backgroundColor: "#ffffff",
    grid,
    xAxis,
    yAxis,
    series,
    graphic,
    legend: {
      orient: "vertical",
      left: 1027,
      top: 248,
      padding: [5, 6, 4, 2],
      itemWidth: 30,
      itemHeight: 4,
      itemGap: 5.7,
      icon: "rect",
      borderColor: "#555",
      borderWidth: 1,
      selectedMode: false,
      data: seriesNames,
      textStyle: { fontSize: 14, fontFamily: FONT, color: TEXT_COLOR, lineHeight: 14 },
    },
  };
}

export default function App() {
  const ref = useRef<HTMLDivElement>(null);
  useEffect(() => {
    if (!ref.current) return;
    const chart = echarts.init(ref.current, undefined, { renderer: "svg" });
    chart.setOption(buildOption() as any);
    return () => chart.dispose();
  }, []);
  return (
    <div
      ref={ref}
      style={{ position: "absolute", left: 0, top: 0, width: 1215, height: 634, background: "#fff" }}
    />
  );
}
